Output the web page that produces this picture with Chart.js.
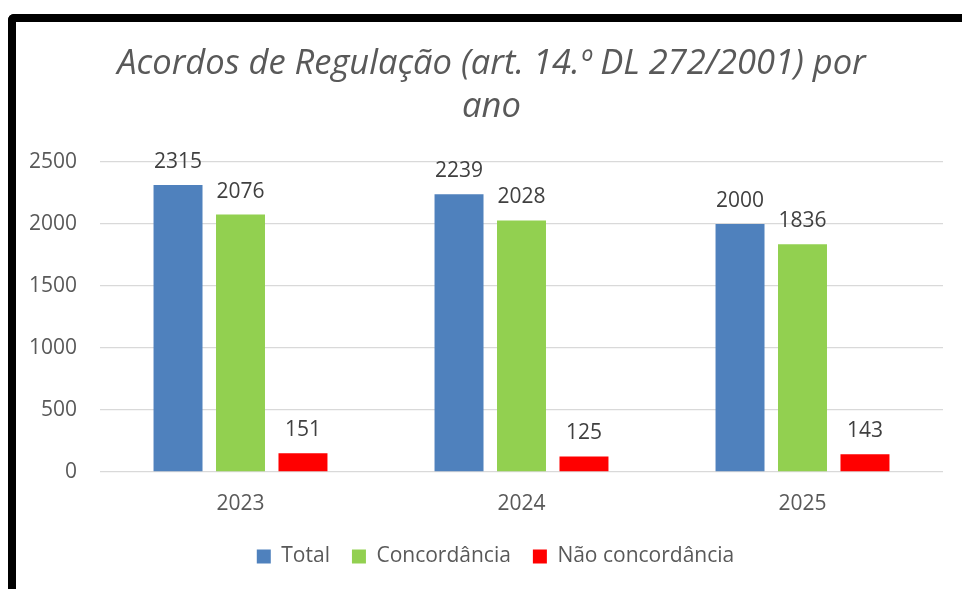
<!DOCTYPE html>
<html>
<head>
<meta charset="utf-8">
<script src="https://cdn.jsdelivr.net/npm/chart.js@4"></script>
<style>
  html, body { margin: 0; padding: 0; background: #fff; overflow: hidden; }
  #wrap { position: relative; width: 962px; height: 589px; }
  #frame { position: absolute; left: 8px; top: 14px; width: 1100px; height: 800px;
           border-left: 8px solid #000; border-top: 8px solid #000; border-top-left-radius: 6px;
           box-sizing: border-box; pointer-events: none; }
  canvas { position: absolute; left: 0; top: 0; }
</style>
</head>
<body>
<div id="wrap">
  <canvas id="c" width="962" height="589"></canvas>
  <div id="frame"></div>
</div>
<script>
const titleLines = ["Acordos de Regulação (art. 14.º DL 272/2001) por", "ano"];
const categories = ["2023", "2024", "2025"];
const seriesNames = ["Total", "Concordância", "Não concordância"];
const totalValues = [2315, 2239, 2000];
const concordanciaValues = [2076, 2028, 1836];
const naoConcordanciaValues = [151, 125, 143];
const yTicks = [0, 500, 1000, 1500, 2000, 2500];
const seriesColors = ["#4F81BD", "#92D050", "#FF0000"];

const FONT = "'Open Sans', 'Liberation Sans', sans-serif";

const dataLabels = {
  id: 'dataLabels',
  afterDatasetsDraw(chart) {
    const ctx = chart.ctx;
    ctx.save();
    ctx.font = "21px " + FONT;
    ctx.fillStyle = "#404040";
    ctx.textAlign = "center";
    ctx.textBaseline = "middle";
    chart.data.datasets.forEach((ds, i) => {
      const meta = chart.getDatasetMeta(i);
      meta.data.forEach((el, j) => {
        ctx.fillText(String(ds.data[j]), el.x, el.y - 23);
      });
    });
    ctx.restore();
  }
};

// Centre the title and legend a little to the right, as in the source chart
const shiftBlocks = {
  id: 'shiftBlocks',
  afterLayout(chart) {
    if (chart.titleBlock) { chart.titleBlock.left += 24; }
    if (chart.legend) { chart.legend.left += 32; }
  }
};

new Chart(document.getElementById('c'), {
  type: 'bar',
  data: {
    labels: categories,
    datasets: [
      { label: seriesNames[0], data: totalValues, backgroundColor: seriesColors[0] },
      { label: seriesNames[1], data: concordanciaValues, backgroundColor: seriesColors[1] },
      { label: seriesNames[2], data: naoConcordanciaValues, backgroundColor: seriesColors[2] }
    ]
  },
  options: {
    responsive: false,
    animation: false,
    devicePixelRatio: 1,
    layout: { padding: { left: 16, right: 19, top: 0, bottom: 12 } },
    datasets: { bar: { categoryPercentage: 0.667, barPercentage: 0.784 } },
    plugins: {
      title: {
        display: true,
        text: titleLines,
        color: "#595959",
        font: { family: FONT, size: 34.5, style: 'italic', weight: 'normal', lineHeight: 1.26 },
        padding: { top: 42, bottom: 33 }
      },
      legend: {
        position: 'bottom',
        labels: {
          color: "#595959",
          font: { family: FONT, size: 21 },
          boxWidth: 14, boxHeight: 14,
          padding: 22
        }
      },
      tooltip: { enabled: false }
    },
    scales: {
      x: {
        grid: { display: false, drawTicks: false },
        border: { display: false },
        ticks: { color: "#595959", font: { family: FONT, size: 21 }, padding: 19 },
        afterFit(s) { s.height = 52; }
      },
      y: {
        min: 0, max: 2500,
        afterBuildTicks(s) { s.ticks = yTicks.map(v => ({ value: v })); },
        grid: { color: "#D9D9D9", lineWidth: 1.3, drawTicks: false },
        border: { display: false },
        ticks: { color: "#595959", font: { family: FONT, size: 21 }, padding: 23,
                 callback: (v) => String(v) },
        afterFit(s) { s.width = 84; }
      }
    }
  },
  plugins: [dataLabels, shiftBlocks]
});
</script>
</body>
</html>
